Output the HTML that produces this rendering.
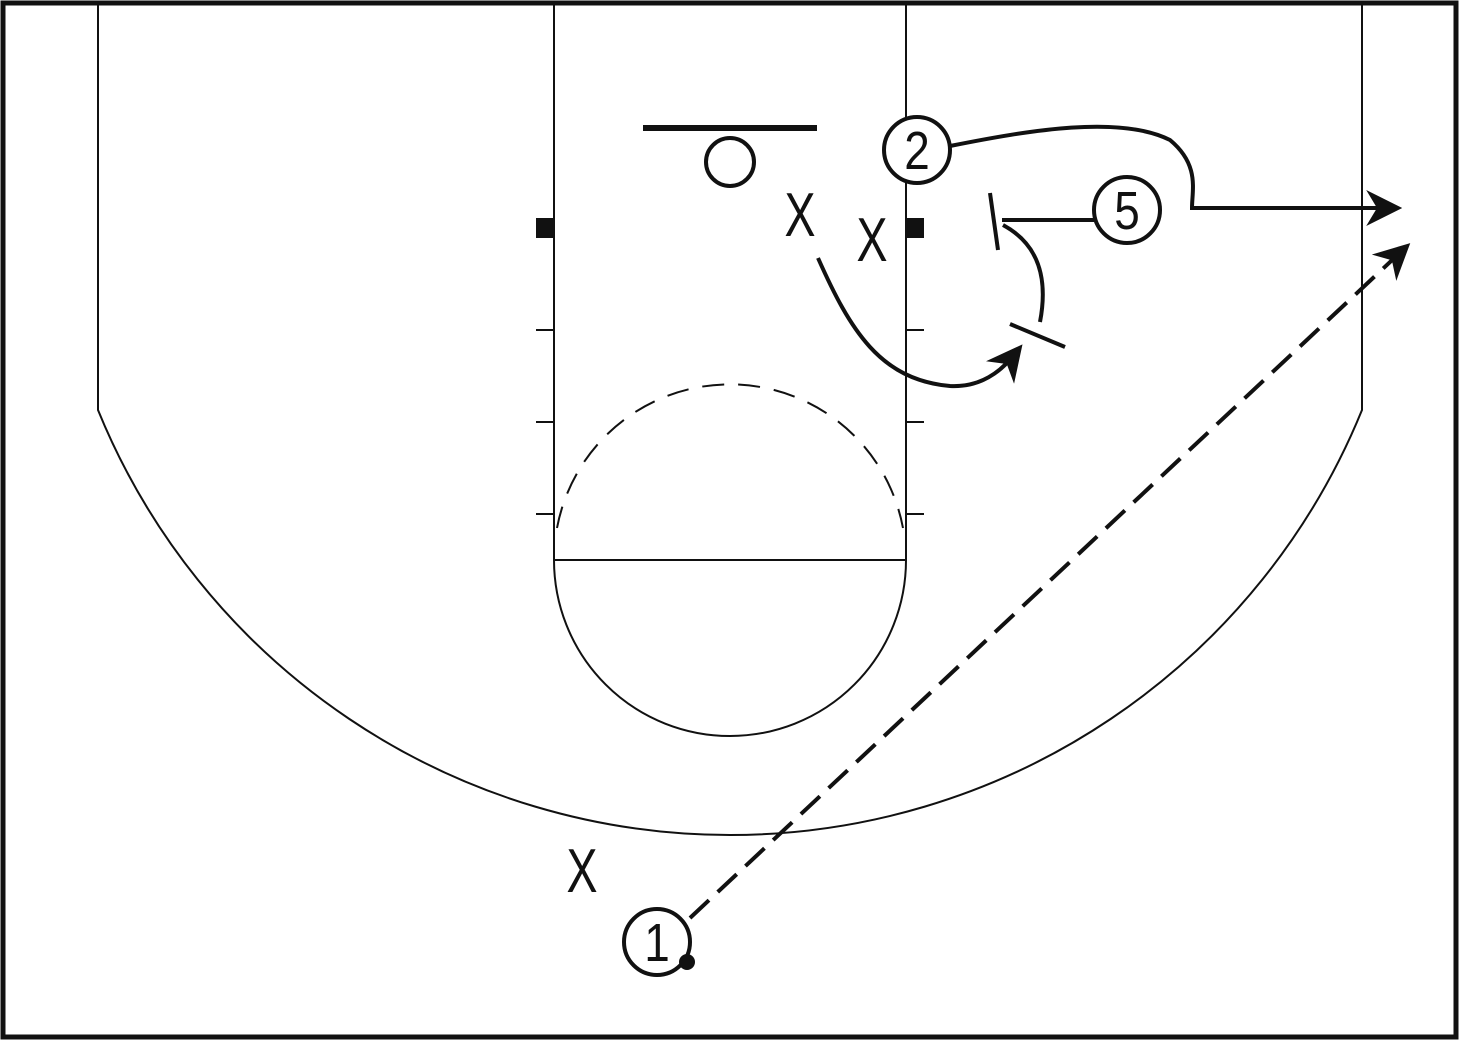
<!DOCTYPE html><html><head><style>body{margin:0;background:#fff}text{font-family:"Liberation Sans",sans-serif}</style></head><body>
<svg width="1460" height="1042" viewBox="0 0 1460 1042" xmlns="http://www.w3.org/2000/svg">
<defs>
<marker id="b" viewBox="0 0 10 10" refX="8" refY="5" markerWidth="36" markerHeight="36" orient="auto" markerUnits="userSpaceOnUse"><path d="M0,0 L10,5 L0,10 L3,5z" fill="#111"/></marker></defs>
<rect x="3" y="3" width="1453" height="1034" fill="#fff" stroke="#111" stroke-width="5"/>
<g fill="none" stroke="#111" stroke-width="2">
<path d="M98,3 V410 A682.4,682.4 0 0 0 1362,410 V3"/>
<path d="M554,3 V560 M906,3 V560"/>
<path d="M554,560 H906"/>
<path d="M554,560 A176,176 0 0 0 906,560" />
<path d="M557,528 A176,176 0 0 1 903,528" stroke-dasharray="22,14"/>
<path d="M536,330H554M536,422H554M536,514H554M906,330H924M906,422H924M906,514H924"/>
</g>
<rect x="536" y="218" width="18" height="20" fill="#111"/><rect x="906" y="218" width="18" height="20" fill="#111"/>
<line x1="643" y1="128" x2="817" y2="128" stroke="#111" stroke-width="6"/>
<circle cx="730" cy="162" r="24" fill="none" stroke="#111" stroke-width="4"/>
<g fill="none" stroke="#111" stroke-width="4">
<path d="M950,146 C1030,130 1120,115 1170,140 C1200,165 1192,190 1192,208 H1395" marker-end="url(#b)"/>
<path d="M1094,220 H1002"/><path d="M990,193 L998,250"/>
<path d="M1003,225 C1040,245 1048,280 1040,322"/><path d="M1010,324 L1065,347"/>
<path d="M818,258 C850,330 880,380 950,386 C990,388 1010,360 1018,350" marker-end="url(#b)"/>
<path d="M690,918 L1405,248" stroke-dasharray="26,12" marker-end="url(#b)"/>
</g>
<g fill="#fff" stroke="#111" stroke-width="4"><circle cx="917" cy="150" r="33"/><circle cx="1127" cy="210" r="33"/><circle cx="657" cy="942" r="33"/></g>
<circle cx="687" cy="962" r="8" fill="#111"/>
<g font-size="54" text-anchor="middle" fill="#111"><text transform="translate(917,169) scale(0.85,1)">2</text><text transform="translate(1127,229) scale(0.85,1)">5</text><text transform="translate(657,961) scale(0.85,1)">1</text></g>
<g font-size="62" text-anchor="middle" fill="#111"><text transform="translate(800,236) scale(0.75,1)">X</text><text transform="translate(872,261) scale(0.75,1)">X</text><text transform="translate(582,892) scale(0.75,1)">X</text></g>
</svg></body></html>
